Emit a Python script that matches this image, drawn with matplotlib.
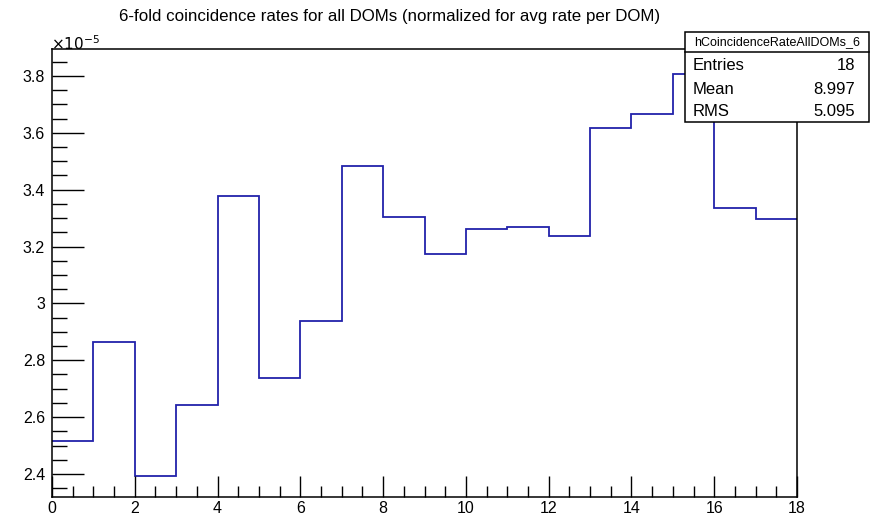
import numpy as np
import matplotlib
matplotlib.use('Agg')
import matplotlib.pyplot as plt
from matplotlib.ticker import MultipleLocator, FuncFormatter

plt.rcParams['font.family'] = ['Liberation Sans', 'DejaVu Sans']

# bin contents (units of 1e-5)
bin_edges = np.arange(0, 19)
rates = np.array([2.515, 2.866, 2.393, 2.643, 3.379, 2.736, 2.937, 3.482, 3.304,
                  3.175, 3.262, 3.268, 3.238, 3.616, 3.666, 3.807, 3.336, 3.297]) * 1e-5

hist_name = 'hCoincidenceRateAllDOMs_6'
stat_names = ['Entries', 'Mean', 'RMS']
stat_values = ['18', '8.997', '5.095']

fig = plt.figure(figsize=(8.76, 5.2), dpi=100)
ax = fig.add_axes([52/876, 23/520, 745/876, 448/520])

ax.stairs(rates, bin_edges, baseline=None, color='#2222aa', lw=1.3)

ax.set_xlim(0, 18)
ax.set_ylim(2.319e-5, 3.895e-5)

ax.xaxis.set_major_locator(MultipleLocator(2))
ax.xaxis.set_minor_locator(MultipleLocator(0.5))
ax.yaxis.set_major_locator(MultipleLocator(0.2e-5))
ax.yaxis.set_minor_locator(MultipleLocator(0.05e-5))
ax.yaxis.set_major_formatter(FuncFormatter(lambda v, p: f'{v/1e-5:.4g}'))

ax.tick_params(which='both', direction='in', top=False, right=False,
               labelsize=11.5, colors='black')
ax.tick_params(axis='y', which='major', length=23, width=1, pad=5)
ax.tick_params(axis='y', which='minor', length=11, width=1)
ax.tick_params(axis='x', which='major', length=15, width=1, pad=3)
ax.tick_params(axis='x', which='minor', length=8, width=1)
for s in ax.spines.values():
    s.set_linewidth(1.1)

fig.text(390/876, 1 - 16/520, '6-fold coincidence rates for all DOMs (normalized for avg rate per DOM)',
         ha='center', va='center', fontsize=12.2)
fig.text(51/876, 1 - 44/520, r'$\times 10^{-5}$', ha='left', va='center', fontsize=11)

# stats box
bx0, bx1, by0, by1 = 685/876, 869/876, 1 - 122/520, 1 - 32/520
sep = 1 - 52/520
box = plt.Rectangle((bx0, by0), bx1 - bx0, by1 - by0, transform=fig.transFigure,
                    facecolor='white', edgecolor='black', lw=1.1, zorder=5)
fig.add_artist(box)
fig.add_artist(plt.Line2D([bx0, bx1], [sep, sep], transform=fig.transFigure,
                          color='black', lw=1.1, zorder=6))
fig.text((bx0 + bx1) / 2, 1 - 42/520, hist_name, ha='center', va='center',
         fontsize=9, zorder=7)
row_y = [66, 89, 112]
for name, val, ry in zip(stat_names, stat_values, row_y):
    fig.text(bx0 + 8/876, 1 - ry/520, name, ha='left', va='center', fontsize=12, zorder=7)
    fig.text(bx1 - 14/876, 1 - ry/520, val, ha='right', va='center', fontsize=12, zorder=7)

fig.savefig('out.png', dpi=100)
